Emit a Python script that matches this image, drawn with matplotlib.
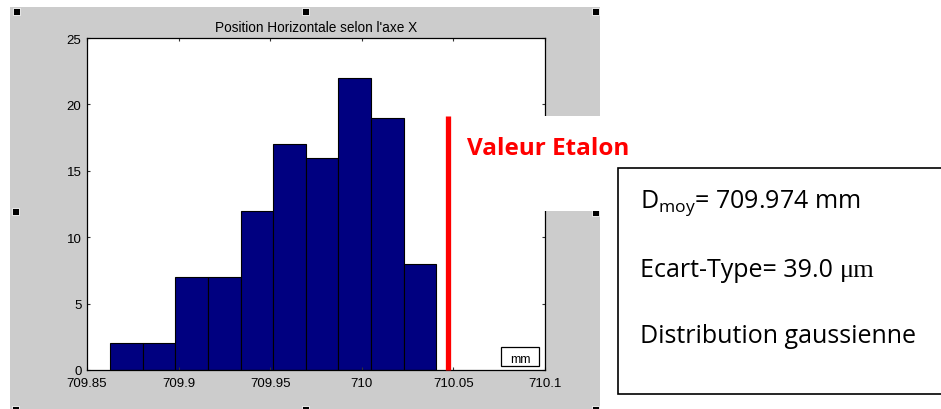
import matplotlib
matplotlib.use('Agg')
import matplotlib.pyplot as plt
from matplotlib.patches import Rectangle

# ---------------- data ----------------
bin_start = 709.8626
bin_width = 0.0178
counts = [2, 2, 7, 7, 12, 17, 16, 22, 19, 8]
etalon_value = 710.047
etalon_top = 19.1
x_ticks = [709.85, 709.9, 709.95, 710.0, 710.05, 710.1]
x_tick_labels = ['709.85', '709.9', '709.95', '710', '710.05', '710.1']
y_ticks = [0, 5, 10, 15, 20, 25]
title = "Position Horizontale selon l'axe X"
etalon_label = "Valeur Etalon"
info_mean = r"D$_{\mathrm{moy}}$= 709.974 mm"
info_std = "Ecart-Type= 39.0 "
info_std_unit = "\u03bcm"
info_dist = "Distribution gaussienne"
unit_label = "mm"

bin_edges = [bin_start + i * bin_width for i in range(len(counts) + 1)]

# ---------------- figure ----------------
W, H = 941, 410
plt.rcParams['mathtext.fontset'] = 'custom'
plt.rcParams['mathtext.rm'] = 'Open Sans'
plt.rcParams['mathtext.it'] = 'Open Sans:italic'
fig = plt.figure(figsize=(W / 100, H / 100), dpi=100)
fig.patch.set_facecolor('white')


def fx(x):
    return x / W


def fy(y):
    return 1 - y / H


def frect(x0, y0, x1, y1, **kw):
    r = Rectangle((fx(x0), fy(y1)), (x1 - x0) / W, (y1 - y0) / H,
                  transform=fig.transFigure, **kw)
    fig.add_artist(r)
    return r


# gray matlab figure background
frect(10, 8, 600, 412, facecolor='#cccccc', edgecolor='none', zorder=-2)

# axes
ax = fig.add_axes([fx(87), fy(371), (545 - 87) / W, (371 - 39) / H])
ax.set_facecolor('white')
ax.hist([(bin_edges[i] + bin_edges[i + 1]) / 2 for i in range(len(counts))],
        bins=bin_edges, weights=counts, color='#000080',
        edgecolor='black', linewidth=0.8)
ax.plot([etalon_value, etalon_value], [0, etalon_top], color='#ff0000',
        linewidth=3.8, solid_capstyle='butt', zorder=5, clip_on=False)
ax.set_xlim(709.85, 710.1)
ax.set_ylim(0, 25)
ax.set_xticks(x_ticks)
ax.set_xticklabels(x_tick_labels)
ax.set_yticks(y_ticks)
for s in ax.spines.values():
    s.set_linewidth(0.9)
    s.set_color('black')
ax.tick_params(direction='in', length=2.5, width=0.8, color='#333333',
               top=True, right=True, labelsize=9.5, pad=4,
               labelfontfamily='Liberation Sans')
ax.tick_params(axis='x', pad=5)
ax.set_title(title, fontsize=9.8, family='Liberation Sans', pad=5)

# unit box inside axes
frect(501, 348, 539, 367, facecolor='white', edgecolor='black',
      linewidth=0.9, zorder=3)
fig.text(fx(520), fy(366), unit_label, ha='center', va='bottom',
         fontsize=9, family='Liberation Sans', zorder=4)

# selection handles
for (cx, cy) in [(16, 12.5), (305.5, 12.5), (595, 12.5),
                 (15.5, 212), (595, 213),
                 (15.5, 410), (305.5, 410), (595.5, 410)]:
    frect(cx - 3.5, cy - 3.5, cx + 3.5, cy + 3.5, facecolor='black',
          edgecolor='white', linewidth=0.6, zorder=3)

# white text box behind "Valeur Etalon"
frect(455, 117, 618, 212, facecolor='white', edgecolor='none', zorder=5)
fig.text(fx(467), fy(155), etalon_label, color='#ff0000', fontsize=17.5,
         fontweight='bold', family='Open Sans', va='baseline', ha='left',
         zorder=6)

# info box
frect(618, 169, 950, 395, facecolor='white', edgecolor='black',
      linewidth=1.2, zorder=5)
fig.text(fx(640), fy(208), info_mean, fontsize=18, family='Open Sans',
         va='baseline', ha='left', zorder=6)
t = fig.text(fx(640), fy(277), info_std, fontsize=18, family='Open Sans',
             va='baseline', ha='left', zorder=6)
fig.canvas.draw()
bb = t.get_window_extent(fig.canvas.get_renderer())
fig.text(bb.x1 / W, fy(277), info_std_unit, fontsize=19,
         family='Liberation Serif', va='baseline', ha='left', zorder=6)
fig.text(fx(640), fy(343), info_dist, fontsize=18, family='Open Sans',
         va='baseline', ha='left', zorder=6)

fig.savefig('out.png', dpi=100)
